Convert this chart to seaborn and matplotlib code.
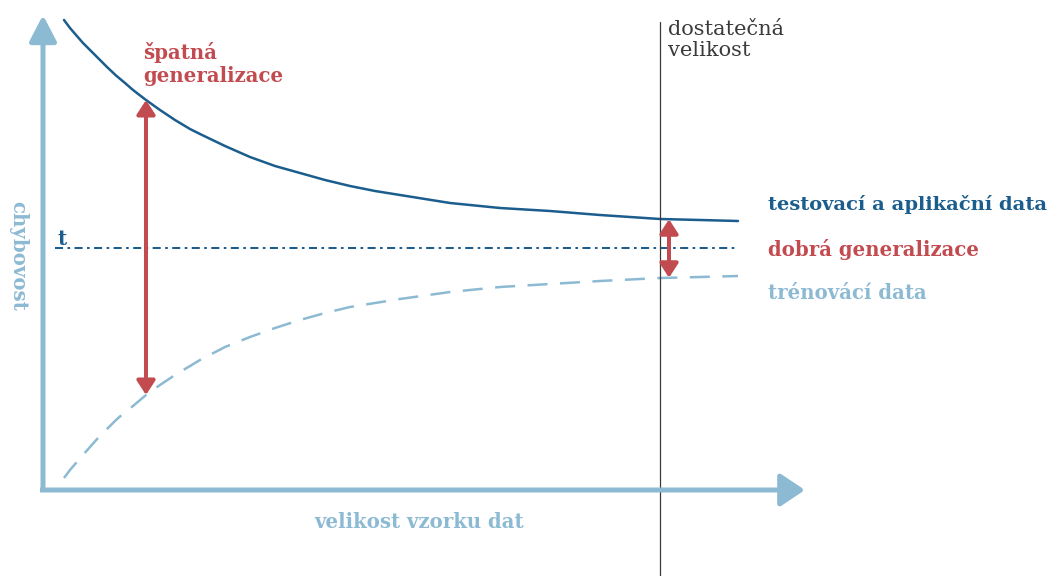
import numpy as np
import pandas as pd
import matplotlib
matplotlib.use("Agg")
import matplotlib.pyplot as plt
import seaborn as sns

# curves (x = sample size, y = error rate, arbitrary units)
size = [0.21, 0.27, 0.33, 0.40, 0.47, 0.55, 0.64, 0.73, 0.82, 0.90, 1.03,
        1.17, 1.32, 1.47, 1.57, 1.82, 2.07, 2.32, 2.57, 2.82, 3.07, 3.32,
        3.57, 4.07, 4.57, 5.07, 5.57, 6.17, 6.57, 6.95]
test_err = [4.70, 4.62, 4.55, 4.47, 4.40, 4.32, 4.23, 4.145, 4.07, 4.00, 3.90,
            3.80, 3.70, 3.61, 3.56, 3.44, 3.33, 3.24, 3.17, 3.10, 3.04, 2.99,
            2.95, 2.87, 2.82, 2.79, 2.75, 2.71, 2.70, 2.69]
train_err = [0.12, 0.20, 0.27, 0.35, 0.43, 0.52, 0.61, 0.70, 0.78, 0.84, 0.95,
             1.05, 1.15, 1.24, 1.30, 1.43, 1.53, 1.62, 1.70, 1.77, 1.83, 1.87,
             1.91, 1.98, 2.03, 2.06, 2.09, 2.12, 2.13, 2.14]

threshold = 2.42
threshold_x = [0.12, 6.95]
enough_size = 6.17          # "dostatečná velikost"
bad_x = 1.03                # "špatná generalizace" arrow
good_x = 6.26               # "dobrá generalizace" arrow

labels = {
    "test": "testovací a aplikační data",
    "good": "dobrá generalizace",
    "train": "trénovácí data",
    "bad": "špatná\ngeneralizace",
    "enough": "dostatečná\nvelikost",
    "xlab": "velikost vzorku dat",
    "ylab": "chybovost",
}

DARK = "#1b5d8d"
LIGHT = "#8dbad3"
RED = "#c24b50"
GREY = "#3a3a3a"

df = pd.DataFrame({"size": size, "test": test_err, "train": train_err})

sns.set_theme(style="white")
plt.rcParams["font.family"] = ["DejaVu Serif"]

fig = plt.figure(figsize=(10.52, 5.76), dpi=100)
ax = fig.add_axes([0, 0, 1, 1])
ax.set_xlim(-0.43, 10.09)
ax.set_ylim(-0.86, 4.90)
ax.axis("off")

# curves
sns.lineplot(data=df, x="size", y="test", ax=ax, color=DARK, lw=1.8)
sns.lineplot(data=df, x="size", y="train", ax=ax, color=LIGHT, lw=1.8,
             linestyle=(0, (8, 5)))
ax.plot(threshold_x, [threshold, threshold], color=DARK, lw=1.45,
        linestyle=(0, (4, 2.2, 1.3, 2.2)))

# axes with arrow heads
ax.annotate("", xy=(0, 4.75), xytext=(0, -0.02),
            arrowprops=dict(arrowstyle="-|>,head_length=16,head_width=8.3",
                            mutation_scale=1, lw=3.6, color=LIGHT,
                            shrinkA=0, shrinkB=0, capstyle="butt"))
ax.annotate("", xy=(7.62, 0), xytext=(-0.03, 0),
            arrowprops=dict(arrowstyle="-|>,head_length=15,head_width=10",
                            mutation_scale=1, lw=3.6, color=LIGHT,
                            shrinkA=0, shrinkB=0, capstyle="butt"))

# sufficient size line
ax.plot([enough_size, enough_size], [-0.86, 4.68], color=GREY, lw=0.9)

# generalisation arrows
bad_top = np.interp(bad_x, size, test_err)
bad_bot = np.interp(bad_x, size, train_err)
good_top = np.interp(good_x, size, test_err)
good_bot = np.interp(good_x, size, train_err)
for gx, top, bot in [(bad_x, bad_top, bad_bot), (good_x, good_top, good_bot)]:
    ax.annotate("", xy=(gx, top), xytext=(gx, bot),
                arrowprops=dict(arrowstyle="<|-|>,head_length=8.5,head_width=5.5",
                                mutation_scale=1, lw=2.9, color=RED,
                                shrinkA=0, shrinkB=0))

# texts
fs = 14.2
ax.text(7.25, 2.86, labels["test"], color=DARK, fontsize=14.0, fontweight="bold",
        va="center", ha="left")
ax.text(7.25, 2.41, labels["good"], color=RED, fontsize=fs, fontweight="bold",
        va="center", ha="left")
ax.text(7.25, 1.97, labels["train"], color=LIGHT, fontsize=fs, fontweight="bold",
        va="center", ha="left")
ax.text(1.00, 4.48, labels["bad"], color=RED, fontsize=fs, fontweight="bold",
        va="top", ha="left", linespacing=1.2)
ax.text(6.25, 4.70, labels["enough"], color=GREY, fontsize=15,
        va="top", ha="left", linespacing=1.15)
ax.text(3.76, -0.32, labels["xlab"], color=LIGHT, fontsize=fs, fontweight="bold",
        va="center", ha="center")
ax.text(-0.25, 2.34, labels["ylab"], color=LIGHT, fontsize=fs, fontweight="bold",
        va="center", ha="center", rotation=270)
ax.text(0.15, 2.45, "t", color=DARK, fontsize=fs, fontweight="bold",
        va="baseline", ha="left")

fig.savefig("out.png", dpi=100)
